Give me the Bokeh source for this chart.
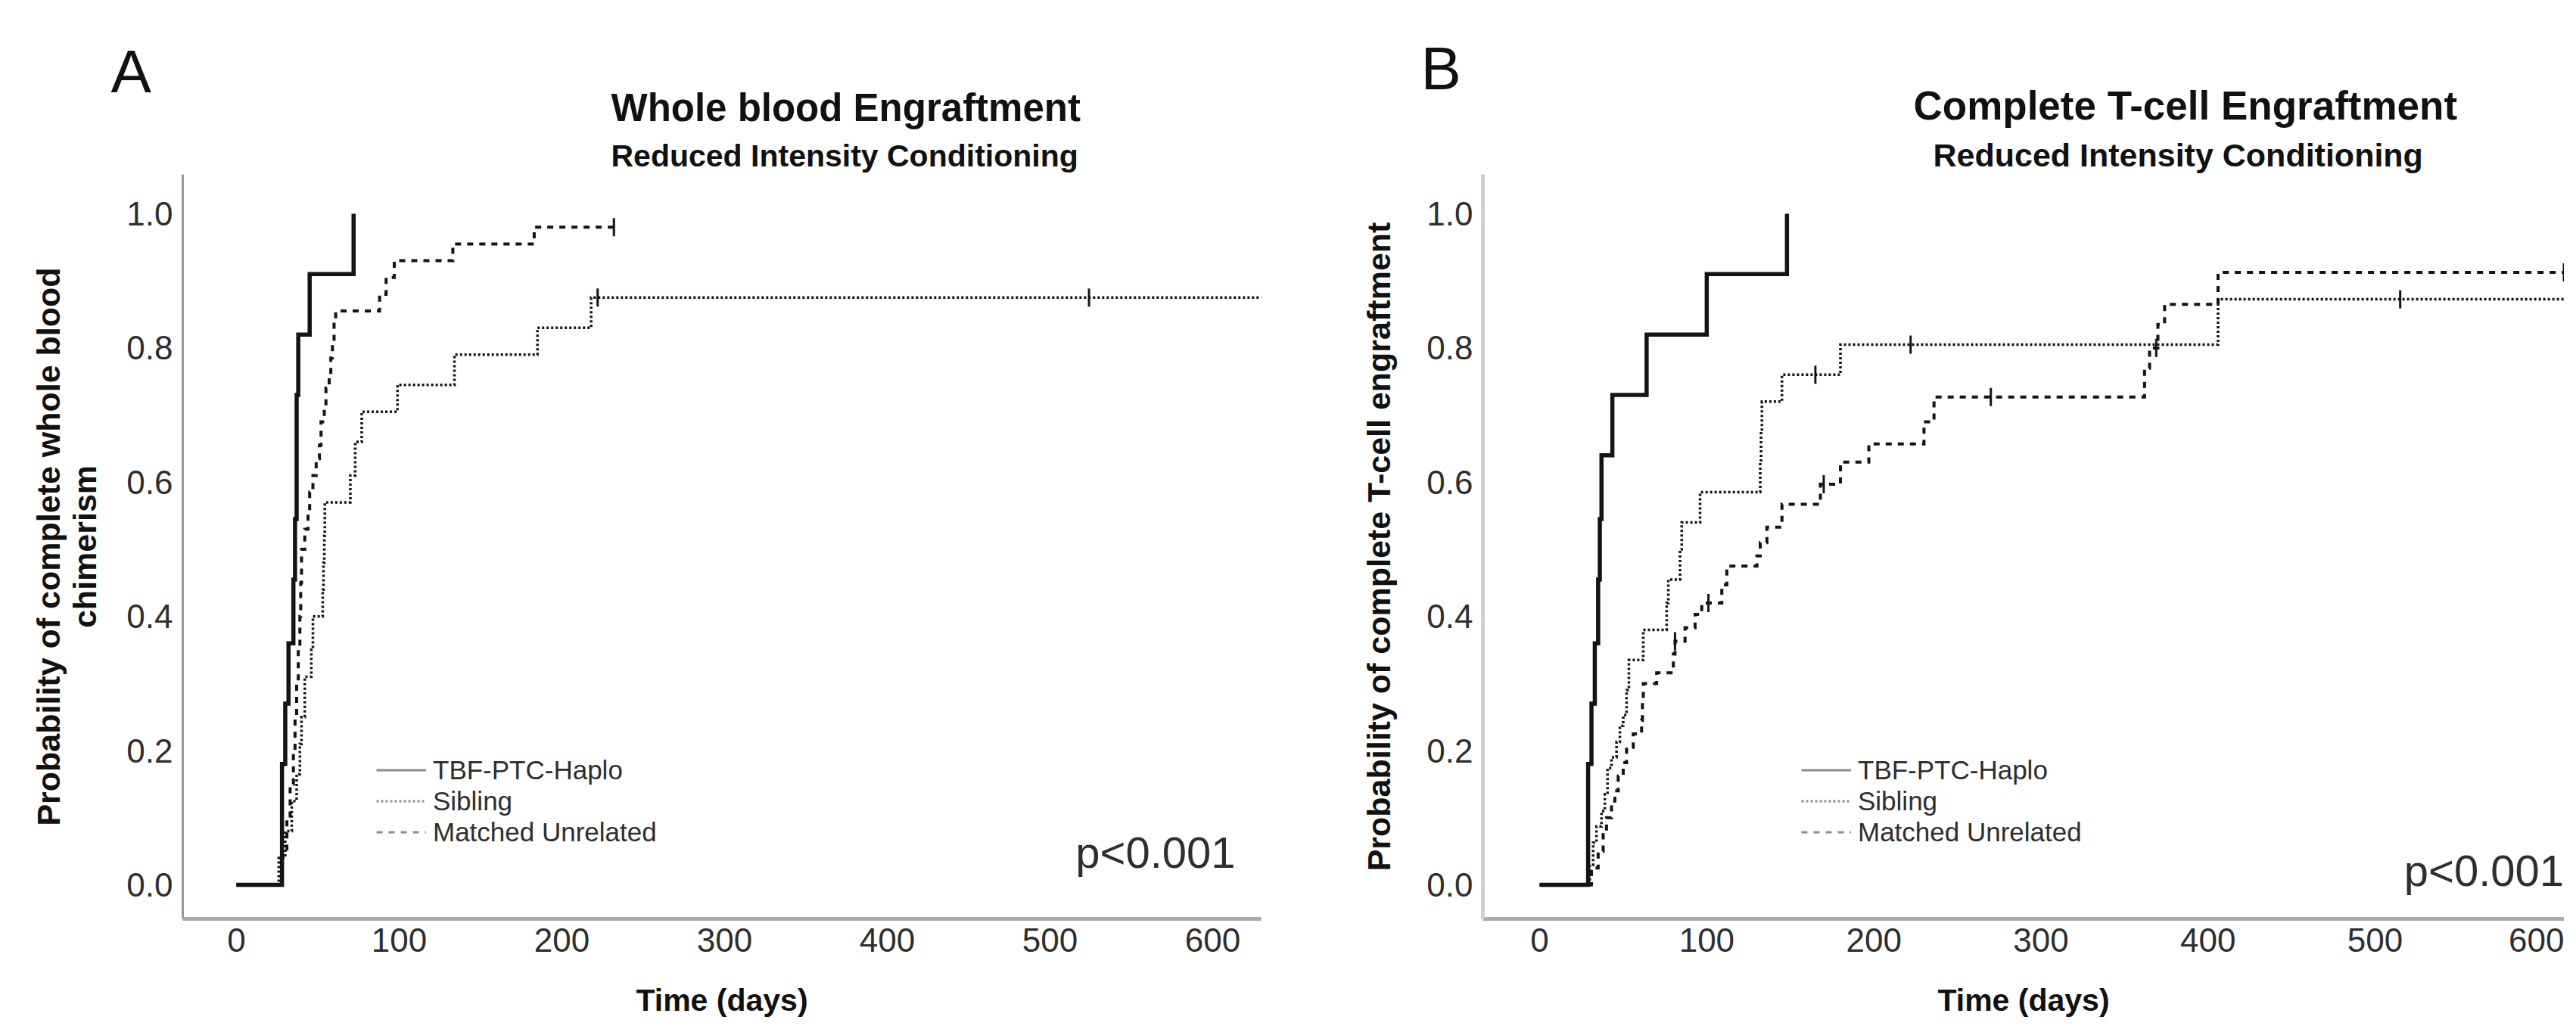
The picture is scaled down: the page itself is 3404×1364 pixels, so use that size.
from bokeh.plotting import figure
from bokeh.layouts import row
from bokeh.models import Range1d, FixedTicker, NumeralTickFormatter, Title, Label, Legend, LegendItem
from bokeh.embed import file_html
from bokeh.resources import INLINE

FONT = "Liberation Sans"
NAN = float("nan")

x_ticks = [0, 100, 200, 300, 400, 500, 600]
y_ticks = [0.0, 0.2, 0.4, 0.6, 0.8, 1.0]
groups = ["TBF-PTC-Haplo", "Sibling", "Matched Unrelated"]

# ---------------- Panel A : Whole blood engraftment ----------------
a_haplo_t = [0, 28, 30, 32, 35, 36, 37, 38, 45, 72]
a_haplo_s = [0.0, 0.18, 0.27, 0.36, 0.455, 0.545, 0.73, 0.82, 0.91, 1.0]
a_haplo_c = []

a_sib_t = [0, 26, 30, 34, 37, 39, 40, 42, 46, 47, 53, 53.5, 54, 54.3, 70, 73, 77, 99, 134, 185, 218, 630]
a_sib_s = [0.0, 0.04, 0.08, 0.125, 0.165, 0.21, 0.25, 0.31, 0.35, 0.40, 0.44, 0.48, 0.52, 0.57,
           0.61, 0.66, 0.705, 0.745, 0.79, 0.83, 0.875, 0.875]
a_sib_c = [222, 524]

a_mud_t = [0, 28, 31, 33, 35, 36, 37, 38, 39, 39.5, 40, 42, 44, 45, 47, 49, 51, 52, 54, 55, 57,
           58, 59, 60, 61, 88, 92, 97, 133, 183, 235]
a_mud_s = [0.0, 0.05, 0.10, 0.15, 0.20, 0.25, 0.30, 0.35, 0.40, 0.45, 0.50, 0.53, 0.555, 0.585,
           0.61, 0.635, 0.655, 0.69, 0.71, 0.74, 0.76, 0.785, 0.81, 0.84, 0.855, 0.88, 0.905,
           0.93, 0.955, 0.98, 0.98]
a_mud_c = [232]

# ---------------- Panel B : Complete T-cell engraftment ----------------
b_haplo_t = [0, 29, 31, 33, 35, 36, 37, 43.5, 64, 100, 148]
b_haplo_s = [0.0, 0.18, 0.27, 0.36, 0.455, 0.545, 0.64, 0.73, 0.82, 0.91, 1.0]
b_haplo_c = []

b_sib_t = [0, 30, 32, 34, 37, 39, 40.6, 43, 46, 48, 50, 52, 53.4, 62, 76, 77, 84, 85, 96,
           132, 132.5, 133, 145, 180, 406, 630]
b_sib_s = [0.0, 0.03, 0.063, 0.087, 0.11, 0.135, 0.174, 0.19, 0.213, 0.237, 0.253, 0.29, 0.335,
           0.38, 0.42, 0.455, 0.50, 0.54, 0.585, 0.63, 0.675, 0.72, 0.76, 0.805, 0.8725, 0.8725]
b_sib_c = [165, 222, 515]

b_mud_t = [0, 31, 35, 38, 40, 43, 45, 47, 50, 52, 56, 61, 61.5, 62, 70, 80, 81, 87, 93, 97,
           109, 112, 130, 132, 136, 145, 168, 180, 197, 230, 236, 362, 365, 370, 374, 406, 630]
b_mud_s = [0.0, 0.025, 0.05, 0.075, 0.10, 0.125, 0.14, 0.162, 0.182, 0.205, 0.225, 0.245, 0.273,
           0.30, 0.316, 0.344, 0.363, 0.383, 0.403, 0.42, 0.447, 0.475, 0.49, 0.51, 0.533, 0.567,
           0.597, 0.63, 0.657, 0.69, 0.727, 0.77, 0.80, 0.835, 0.865, 0.9125, 0.9125]
b_mud_c = [81, 101, 170, 270, 369, 613]

CURVE = {
    "TBF-PTC-Haplo": dict(line_color="#141414", line_width=5.5, line_dash="solid"),
    "Sibling": dict(line_color="#141414", line_width=3.5, line_dash="3 3"),
    "Matched Unrelated": dict(line_color="#141414", line_width=4, line_dash="8 8"),
}
LEG = {
    "TBF-PTC-Haplo": dict(line_color="#8c8c8c", line_width=3, line_dash="solid"),
    "Sibling": dict(line_color="#8c8c8c", line_width=3, line_dash="3 3"),
    "Matched Unrelated": dict(line_color="#8c8c8c", line_width=3, line_dash="8 8"),
}


def level_at(times, values, c):
    v = values[0]
    for t, s in zip(times, values):
        if t <= c:
            v = s
    return v


def make_panel(width, b_left, b_right, x_start, x_end, series, ylabel, title, subtitle,
               letter, title_off, sub_off, letter_off, legend_x, px, py,
               title_size, sub_size, ylab_lh, ylab_standoff, yaxis_color, yaxis_width):
    p = figure(width=width, height=1348, x_range=Range1d(x_start, x_end),
               y_range=Range1d(-0.0507, 1.0586), output_backend="svg", toolbar_location=None,
               min_border_left=b_left, min_border_right=b_right, min_border_top=230,
               min_border_bottom=134, title=None)
    p.outline_line_color = None
    p.grid.visible = False
    p.background_fill_color = "white"
    p.border_fill_color = "white"

    for ax in (p.xaxis[0], p.yaxis[0]):
        ax.major_tick_line_color = None
        ax.minor_tick_line_color = None
        ax.major_tick_out = 0
        ax.major_tick_in = 0
        ax.minor_tick_out = 0
        ax.minor_tick_in = 0
        ax.major_label_text_font = FONT
        ax.major_label_text_font_size = "44px"
        ax.major_label_text_color = "#2e2e2e"
        ax.axis_label_text_font = FONT
        ax.axis_label_text_font_style = "bold"
        ax.axis_label_text_color = "#111111"

    xa = p.xaxis[0]
    xa.ticker = FixedTicker(ticks=x_ticks)
    xa.axis_line_color = "#ababab"
    xa.axis_line_width = 5
    xa.major_label_standoff = 12
    xa.axis_label = "Time (days)"
    xa.axis_label_text_font_size = "41px"
    xa.axis_label_standoff = 38

    ya = p.yaxis[0]
    ya.ticker = FixedTicker(ticks=y_ticks)
    ya.formatter = NumeralTickFormatter(format="0.0")
    ya.axis_line_color = yaxis_color
    ya.axis_line_width = yaxis_width
    ya.major_label_standoff = 13
    ya.axis_label = ylabel
    ya.axis_label_text_font_size = "43px"
    ya.axis_label_text_line_height = ylab_lh
    ya.axis_label_standoff = ylab_standoff

    items = []
    for name, (t, s, c) in zip(groups, series):
        p.step(t, s, mode="after", line_join="miter", **CURVE[name])
        if c:
            p.scatter(c, [level_at(t, s, v) for v in c], marker="dash", angle=1.5708,
                      size=24, line_color="#141414", line_width=3)
        lr = p.line(x=[NAN], y=[NAN], **LEG[name])
        items.append(LegendItem(label=name, renderers=[lr]))

    leg = Legend(items=items, location=(legend_x, 94), orientation="vertical",
                 glyph_width=66, glyph_height=41, label_height=41, label_standoff=9,
                 spacing=0, padding=0, margin=0, border_line_color=None,
                 background_fill_alpha=0, label_text_font=FONT, label_text_font_size="35px",
                 label_text_color="#2e2e2e")
    p.add_layout(leg, "center")

    p.add_layout(Label(x=px, y=py, text="p<0.001", text_align="right",
                       text_baseline="alphabetic", text_font=FONT, text_font_size="58px",
                       text_color="#2e2e2e"))

    p.add_layout(Title(text=subtitle, align="left", offset=sub_off, text_font=FONT,
                       text_font_size=sub_size, text_font_style="bold", standoff=3,
                       text_color="#111111"), "above")
    p.add_layout(Title(text=title, align="left", offset=title_off, text_font=FONT,
                       text_font_size=title_size, text_font_style="bold", standoff=17,
                       text_color="#111111"), "above")
    p.add_layout(Title(text=letter, align="left", offset=letter_off, text_font=FONT,
                       text_font_size="80px", text_font_style="normal", standoff=-70,
                       text_color="#111111"), "above")
    return p


pa = make_panel(1760, 241, 94, -33.0, 629.8,
                [(a_haplo_t, a_haplo_s, a_haplo_c), (a_sib_t, a_sib_s, a_sib_c),
                 (a_mud_t, a_mud_s, a_mud_c)],
                "Probability of complete whole blood\nchimerism",
                "Whole blood Engraftment", "Reduced Intensity Conditioning", "A",
                566, 566, -95, 256, 614, 0.048,
                "51px", "41px", 1.0, 28, "#9a9a9a", 3)

pb = make_panel(1628, 199, 0, -34.0, 613.2,
                [(b_haplo_t, b_haplo_s, b_haplo_c), (b_sib_t, b_sib_s, b_sib_c),
                 (b_mud_t, b_mud_s, b_mud_c)],
                "Probability of complete T-cell engraftment",
                "Complete T-cell Engraftment", "Reduced Intensity Conditioning", "B",
                569, 595, -82, 421, 613, 0.021,
                "53px", "43px", 1.0, 36, "#cfcfcf", 5)

layout = row(pa, pb, spacing=0)
open("out.html", "w").write(file_html(layout, INLINE))
